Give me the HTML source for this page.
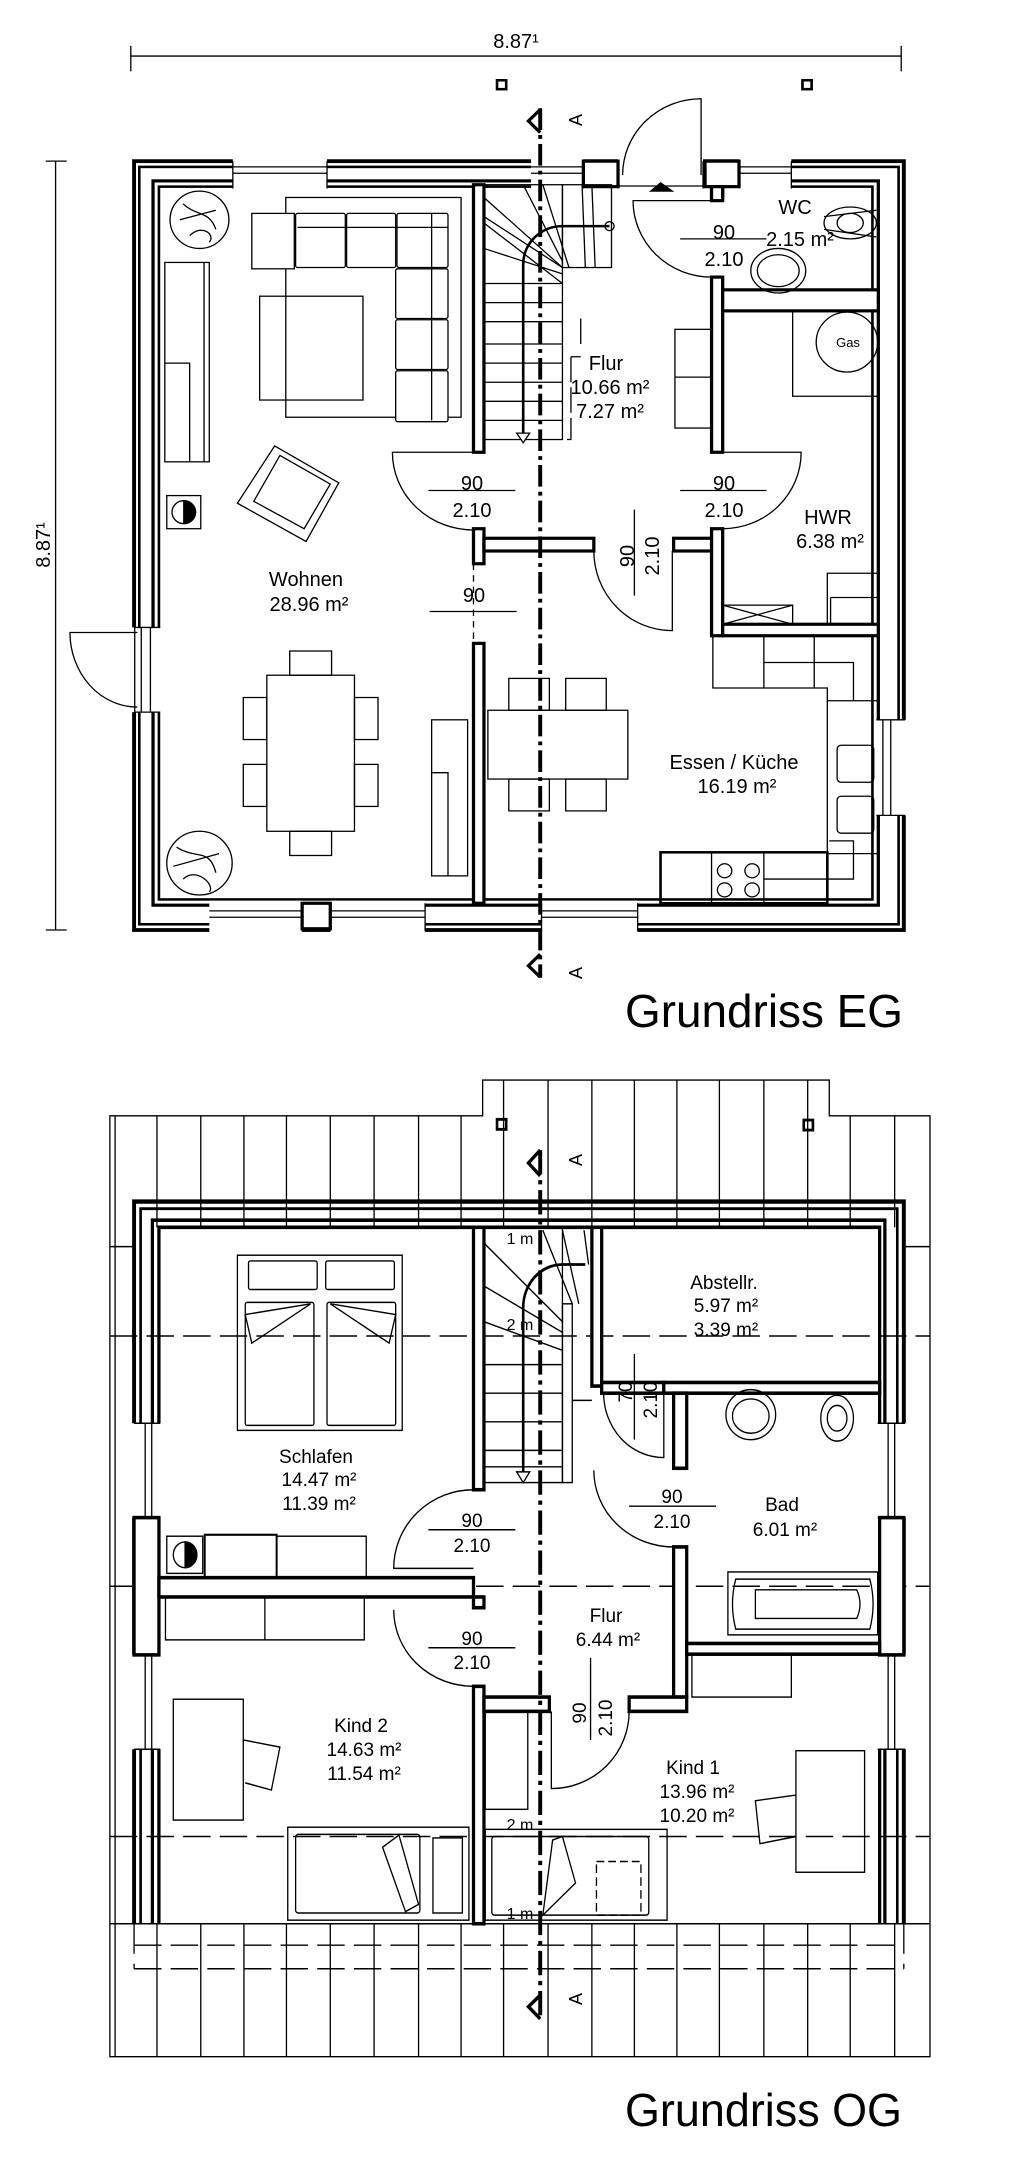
<!DOCTYPE html>
<html><head><meta charset="utf-8"><style>
html,body{margin:0;padding:0;background:#fff;}
svg{display:block;}
text{font-family:"Liberation Sans",sans-serif;fill:#000;}
</style></head><body>
<svg width="1024" height="2170" viewBox="0 0 1024 2170" xmlns="http://www.w3.org/2000/svg">
<rect width="1024" height="2170" fill="#fff"/>

<!-- ================= EG ================= -->
<g transform="scale(0.654,0.637)" fill="none" stroke="#000" stroke-width="2">
  <line x1="200" y1="88" x2="1378" y2="88"/>
  <line x1="200" y1="72" x2="200" y2="112"/><line x1="1378" y1="72" x2="1378" y2="112"/>
  <line x1="85" y1="253" x2="85" y2="1460"/>
  <line x1="70" y1="253" x2="102" y2="253"/><line x1="70" y1="1460" x2="102" y2="1460"/>
  <rect x="760" y="126" width="14" height="14" stroke-width="4"/>
  <rect x="1227" y="126" width="14" height="14" stroke-width="4"/>

  <rect x="205" y="253" width="1177" height="1207" stroke-width="6"/>
  <rect x="213" y="262" width="1161" height="1189" stroke-width="4"/>
  <rect x="234" y="284" width="1109" height="1137" stroke-width="5"/>
  <rect x="243" y="293" width="1091" height="1119" stroke-width="4"/>
  <g fill="#fff" stroke="none">
    <rect x="356" y="246" width="144" height="52"/>
    <rect x="812" y="246" width="80" height="52"/>
    <rect x="945" y="246" width="130" height="52"/>
    <rect x="1130" y="246" width="80" height="52"/>
    <rect x="198" y="985" width="50" height="133"/>
    <rect x="320" y="1414" width="142" height="52"/>
    <rect x="505" y="1414" width="145" height="52"/>
    <rect x="828" y="1414" width="147" height="52"/>
    <rect x="1338" y="1130" width="52" height="150"/>
  </g>
  <g stroke-width="2">
    <path d="M356 262H500M356 272H500M812 262H892M812 272H892M1130 262H1210M1130 272H1210M945 292H1075"/>
    <path d="M206 985V1118M216 985V1118M230 985V1118"/>
    <path d="M320 1430H462M320 1440H462M505 1430H650M505 1440H650M828 1430H975M828 1440H975"/>
    <path d="M1350 1130V1280M1362 1130V1280"/>
    <path d="M356 253V296M500 253V296M892 253V296M945 253V296M1075 253V296M1130 253V296M1210 253V296"/>
    <path d="M205 985H245M205 1118H245M462 1418V1462M505 1418V1462M650 1418V1462M828 1418V1462M975 1418V1462M1340 1130H1384M1340 1280H1384"/>
  </g>
  <g stroke-width="5" fill="#fff">
    <rect x="892" y="253" width="53" height="40"/>
    <rect x="1078" y="253" width="52" height="40"/>
    <rect x="462" y="1418" width="43" height="40"/>
    <path d="M1088 293V310H1105V293"/>
  </g>

  <g stroke-width="5" fill="#fff">
    <rect x="724" y="290" width="16" height="420"/>
    <rect x="724" y="830" width="16" height="55"/>
    <rect x="724" y="1010" width="16" height="408"/>
    <rect x="740" y="845" width="168" height="20"/>
    <rect x="1030" y="845" width="60" height="20"/>
    <rect x="1088" y="293" width="17" height="22"/>
    <rect x="1088" y="435" width="17" height="275"/>
    <rect x="1088" y="830" width="17" height="168"/>
    <rect x="1105" y="455" width="238" height="33"/>
    <rect x="1105" y="980" width="238" height="18"/>
  </g>

  <rect x="740" y="290" width="120" height="400"/>
  <rect x="860" y="290" width="75" height="130"/>
  <path d="M740 445H860M740 475H860M740 505H860M740 540H860M740 570H860M740 600H860M740 630H860M740 660H860"/>
  <path d="M740 310L860 420M740 340L860 420M740 390L860 430M740 350L860 445M800 290L860 410M830 290L870 420M890 290L895 420M905 290L910 420"/>
  <path d="M932 355H860A60 60 0 0 0 800 415V685" stroke-width="4"/>
  <path d="M790 680L800 695L810 680Z" fill="#fff"/>
  <circle cx="932" cy="355" r="7"/>
  <path d="M873 560V690H860M873 560H888M888 540V500" stroke-dasharray="40 8"/>
  <rect x="1032" y="517" width="56" height="155"/>
  <line x1="1032" y1="592" x2="1088" y2="592"/>

  <line x1="826" y1="170" x2="826" y2="1535" stroke-width="6" stroke-dasharray="34 8 6 8"/>
  <path d="M826 172L808 190L826 208" stroke-width="5"/>
  <path d="M826 1498L808 1516L826 1534" stroke-width="5"/>
  <path d="M1010 287L995 300H1028Z" fill="#000"/>

  <path d="M1072 275V155A120 120 0 0 0 952 275"/>
  <path d="M1088 315H968A120 120 0 0 0 1088 435"/>
  <path d="M724 710H600A124 122 0 0 0 724 832"/>
  <path d="M1105 710H1225A120 120 0 0 1 1105 830"/>
  <path d="M1028 865V990A120 125 0 0 1 908 865"/>
  <path d="M210 993H107A103 117 0 0 0 210 1110"/>
  <path d="M724 885V1010" stroke-dasharray="10 8"/>
  <path d="M655 770H788M1040 770H1172M1040 375H1172M970 800V935M657 960H790"/>

  <rect x="437" y="310" width="268" height="345"/>
  <rect x="385" y="335" width="65" height="87" fill="#fff"/>
  <rect x="452" y="335" width="76" height="85" fill="#fff" rx="3"/>
  <rect x="530" y="335" width="75" height="85" fill="#fff" rx="3"/>
  <rect x="607" y="335" width="78" height="85" fill="#fff" rx="3"/>
  <rect x="605" y="422" width="80" height="78" fill="#fff" rx="3"/>
  <rect x="605" y="502" width="80" height="78" fill="#fff" rx="3"/>
  <rect x="605" y="582" width="80" height="80" fill="#fff" rx="3"/>
  <path d="M660 335V660M455 357H685"/>
  <rect x="397" y="465" width="158" height="163"/>
  <rect x="252" y="412" width="68" height="313"/>
  <path d="M252 570H290V725M312 412V725"/>
  <rect x="255" y="778" width="52" height="52"/>
  <circle cx="281" cy="804" r="18"/>
  <path d="M281 786A18 18 0 0 1 281 822Z" fill="#000"/>
  <path d="M420 700L518 758L468 850L363 790Z"/>
  <path d="M428 715L505 760L465 830L388 787Z"/>
  <circle cx="305" cy="345" r="45"/>
  <path d="M280 320C300 340 320 330 330 360M290 370C310 350 330 370 320 380M275 345L330 330"/>
  <circle cx="305" cy="1355" r="50"/>
  <path d="M270 1330C300 1350 320 1330 330 1370M280 1380C300 1360 330 1390 320 1400M265 1360L335 1340"/>
  <rect x="408" y="1060" width="134" height="245"/>
  <rect x="443" y="1022" width="64" height="38"/><rect x="443" y="1305" width="64" height="38"/>
  <rect x="372" y="1095" width="36" height="66"/><rect x="372" y="1200" width="36" height="66"/>
  <rect x="542" y="1095" width="36" height="66"/><rect x="542" y="1200" width="36" height="66"/>
  <rect x="660" y="1130" width="55" height="245"/>
  <path d="M660 1213H685V1375"/>

  <rect x="746" y="1115" width="214" height="108"/>
  <rect x="778" y="1065" width="62" height="50"/><rect x="865" y="1065" width="62" height="50"/>
  <rect x="778" y="1223" width="62" height="50"/><rect x="865" y="1223" width="62" height="50"/>
  <path d="M1090 998V1080H1265V1340H1345M1168 998V1080M1245 998V1080M1168 1040H1305V1100M1265 1100H1343"/>
  <rect x="1280" y="1170" width="56" height="58" rx="6"/>
  <rect x="1280" y="1250" width="56" height="58" rx="6"/>
  <path d="M1268 1320H1305V1380H1168"/>
  <rect x="1010" y="1338" width="255" height="80" stroke-width="4"/>
  <path d="M1088 1338V1418M1168 1338V1418"/>
  <circle cx="1108" cy="1367" r="11"/><circle cx="1150" cy="1367" r="11"/>
  <circle cx="1108" cy="1397" r="11"/><circle cx="1150" cy="1397" r="11"/>

  <ellipse cx="1300" cy="350" rx="40" ry="25"/><ellipse cx="1300" cy="350" rx="20" ry="15"/>
  <path d="M1260 340L1340 330M1260 360L1340 372"/>
  <ellipse cx="1190" cy="425" rx="42" ry="35"/><ellipse cx="1190" cy="425" rx="32" ry="25"/>
  <path d="M1212 488V622H1343"/>
  <circle cx="1295" cy="537" r="47"/>
  <rect x="1105" y="950" width="107" height="30"/>
  <path d="M1105 950L1212 980M1105 980L1212 950"/>
  <path d="M1265 980V900H1343M1270 938H1343M1270 938V980"/>
</g>

<g font-size="20" text-anchor="middle">
  <text x="516" y="48">8.87¹</text>
  <text transform="translate(50,545) rotate(-90)">8.87¹</text>
  <text x="472" y="490">90</text><text x="472" y="517">2.10</text>
  <text x="724" y="490">90</text><text x="724" y="517">2.10</text>
  <text x="724" y="239">90</text><text x="724" y="266">2.10</text>
  <text x="795" y="214">WC</text><text x="800" y="246">2.15 m²</text>
  <text x="606" y="370">Flur</text>
  <text x="610" y="394">10.66 m²</text>
  <text x="610" y="418">7.27 m²</text>
  <text x="828" y="524">HWR</text><text x="830" y="548">6.38 m²</text>
  <text transform="translate(634,556) rotate(-90)">90</text>
  <text transform="translate(659,556) rotate(-90)">2.10</text>
  <text x="474" y="602">90</text>
  <text x="306" y="586">Wohnen</text><text x="309" y="611">28.96 m²</text>
  <text x="734" y="769">Essen / Küche</text><text x="737" y="793">16.19 m²</text>
  <text x="848" y="347" font-size="13">Gas</text>
  <text transform="translate(582,120) rotate(-90)" font-size="18">A</text>
  <text transform="translate(582,973) rotate(-90)" font-size="18">A</text>
</g>
<text x="625" y="1027" font-size="46" textLength="278" lengthAdjust="spacingAndGlyphs">Grundriss EG</text>

<!-- ================= OG ================= -->
<g transform="translate(0,1050) scale(0.654,0.715)" fill="none" stroke="#000" stroke-width="2">
  <path d="M168 1408V92H738V42H1268V92H1422V1408Z"/>
  <path d="M176 92V1408"/>
  <path d="M168 275H205M1382 275H1422M168 1222H1422"/>
  <path d="M240 92V248M307 92V248M373 92V248M438 92V248M505 92V248M572 92V248M640 92V248M705 92V248M770 42V248M838 42V248M905 42V248M970 42V248M1035 42V248M1100 42V248M1168 42V248M1235 42V248M1300 92V248M1368 92V248"/>
  <path d="M240 1222V1408M307 1222V1408M373 1222V1408M438 1222V1408M505 1222V1408M572 1222V1408M640 1222V1408M705 1222V1408M770 1222V1408M838 1222V1408M905 1222V1408M970 1222V1408M1035 1222V1408M1100 1222V1408M1168 1222V1408M1235 1222V1408M1300 1222V1408M1368 1222V1408"/>
  <path d="M168 400H1422M168 750H1422M168 1100H1422M205 1252H1382M205 1285H1382M205 1222V1285M1382 1222V1285" stroke-dasharray="42 14"/>
  <rect x="760" y="97" width="14" height="14" stroke-width="4"/>
  <rect x="1229" y="98" width="14" height="14" stroke-width="4"/>

  <g stroke-width="5">
    <path d="M205 1222V212H1382V1222" stroke-width="6"/>
    <path d="M215 1222V222H1372V1222" stroke-width="4"/>
    <path d="M233 1222V238H1353V1222"/>
    <path d="M243 1222V248H723M740 248H1345V1222"/>
  </g>
  <g fill="#fff" stroke="none">
    <rect x="198" y="522" width="50" height="132"/>
    <rect x="198" y="846" width="50" height="132"/>
    <rect x="1340" y="522" width="50" height="132"/>
    <rect x="1340" y="846" width="50" height="132"/>
  </g>
  <path d="M205 522H245M205 654H245M205 846H245M205 978H245M1342 522H1384M1342 654H1384M1342 846H1384M1342 978H1384"/>
  <path d="M222 522V654M232 522V654M222 846V978M232 846V978M1358 522V654M1368 522V654M1358 846V978M1368 846V978"/>
  <g stroke-width="5" fill="#fff">
    <rect x="205" y="654" width="38" height="192"/>
    <rect x="1345" y="654" width="37" height="192"/>
  </g>

  <g stroke-width="5" fill="#fff">
    <rect x="724" y="248" width="16" height="367"/>
    <rect x="243" y="738" width="481" height="27"/>
    <rect x="724" y="765" width="16" height="15"/>
    <rect x="724" y="890" width="16" height="332"/>
    <rect x="905" y="248" width="15" height="222"/>
    <rect x="920" y="465" width="95" height="15"/>
    <rect x="1015" y="465" width="330" height="15"/>
    <rect x="1030" y="480" width="20" height="105"/>
    <rect x="1030" y="695" width="20" height="210"/>
    <rect x="1050" y="830" width="295" height="15"/>
    <rect x="740" y="905" width="100" height="20"/>
    <rect x="962" y="905" width="88" height="20"/>
  </g>
  <rect x="860" y="355" width="15" height="250"/>
  <path d="M875 490H905"/>

  <rect x="740" y="248" width="120" height="357"/>
  <path d="M740 440H860M740 480H860M740 520H860M740 560H860M740 583H860"/>
  <path d="M740 270L860 380M740 330L860 395M740 380L860 420M830 252L875 355M860 252L885 355M893 252L900 300"/>
  <path d="M895 300H860A60 60 0 0 0 800 360V600" stroke-width="4"/>
  <path d="M790 590L800 605L810 590Z" fill="#fff"/>

  <line x1="826" y1="140" x2="826" y2="1355" stroke-width="6" stroke-dasharray="34 8 6 8"/>
  <path d="M826 140L808 158L826 176" stroke-width="5"/>
  <path d="M826 1322L808 1338L826 1355" stroke-width="5"/>

  <path d="M724 725H602A122 110 0 0 1 724 615"/>
  <path d="M602 783A122 107 0 0 0 724 890"/>
  <path d="M908 588A122 107 0 0 0 1030 695"/>
  <path d="M1015 480V570A92 90 0 0 1 923 480"/>
  <path d="M843 925V1033A119 108 0 0 0 962 925"/>
  <path d="M655 671H788M962 638H1095M655 836H788M903 850V965M970 425V545"/>

  <rect x="363" y="287" width="252" height="245"/>
  <rect x="380" y="295" width="105" height="40" rx="3"/><rect x="498" y="295" width="105" height="40" rx="3"/>
  <rect x="375" y="353" width="105" height="172" rx="3"/><rect x="500" y="353" width="105" height="172" rx="3"/>
  <path d="M375 370L475 355L385 410ZM605 370L505 355L595 410Z"/>
  <rect x="255" y="680" width="55" height="52"/>
  <circle cx="283" cy="706" r="18"/>
  <path d="M283 688A18 18 0 0 1 283 724Z" fill="#000"/>
  <rect x="313" y="678" width="110" height="60" stroke-width="3"/>
  <rect x="423" y="680" width="137" height="58"/>
  <rect x="253" y="765" width="304" height="60"/>
  <path d="M405 765V825"/>

  <rect x="265" y="908" width="107" height="169"/>
  <path d="M372 965L428 975L415 1035L375 1025"/>
  <rect x="440" y="1087" width="277" height="130"/>
  <rect x="452" y="1097" width="190" height="110" rx="4"/>
  <rect x="662" y="1102" width="45" height="105"/>
  <path d="M585 1115L610 1098L640 1195L620 1205Z"/>

  <rect x="1217" y="980" width="105" height="170"/>
  <path d="M1217 1042L1155 1050L1162 1110L1217 1100"/>
  <rect x="1058" y="845" width="152" height="60"/>
  <rect x="742" y="1090" width="278" height="127"/>
  <rect x="752" y="1100" width="240" height="110" rx="4"/>
  <rect x="912" y="1135" width="68" height="75" stroke-dasharray="12 6"/>
  <path d="M845 1105L860 1100L880 1165L830 1210Z"/>
  <rect x="742" y="925" width="65" height="137"/>

  <ellipse cx="1148" cy="510" rx="38" ry="35"/><ellipse cx="1148" cy="512" rx="28" ry="24"/>
  <ellipse cx="1280" cy="515" rx="25" ry="32"/><ellipse cx="1280" cy="515" rx="15" ry="18"/>
  <rect x="1113" y="730" width="229" height="88"/>
  <path d="M1125 740H1330Q1340 775 1330 810H1125Q1115 775 1125 740Z"/>
  <path d="M1155 755H1310Q1320 775 1310 795H1155Z"/>
</g>

<g font-size="19" text-anchor="middle">
  <text x="520" y="1244" font-size="16">1 m</text>
  <text x="520" y="1330" font-size="16">2 m</text>
  <text x="520" y="1830" font-size="16">2 m</text>
  <text x="520" y="1919" font-size="16">1 m</text>
  <text x="724" y="1289">Abstellr.</text><text x="726" y="1312">5.97 m²</text><text x="726" y="1336">3.39 m²</text>
  <text transform="translate(632,1392) rotate(-90)">70</text>
  <text transform="translate(657,1400) rotate(-90)">2.10</text>
  <text x="316" y="1463">Schlafen</text><text x="319" y="1486">14.47 m²</text><text x="319" y="1510">11.39 m²</text>
  <text x="472" y="1527">90</text><text x="472" y="1552">2.10</text>
  <text x="672" y="1503">90</text><text x="672" y="1528">2.10</text>
  <text x="782" y="1511">Bad</text><text x="785" y="1536">6.01 m²</text>
  <text x="472" y="1645">90</text><text x="472" y="1669">2.10</text>
  <text x="606" y="1622">Flur</text><text x="608" y="1646">6.44 m²</text>
  <text transform="translate(586,1713) rotate(-90)">90</text>
  <text transform="translate(612,1718) rotate(-90)">2.10</text>
  <text x="361" y="1732">Kind 2</text><text x="364" y="1756">14.63 m²</text><text x="364" y="1780">11.54 m²</text>
  <text x="693" y="1774">Kind 1</text><text x="697" y="1798">13.96 m²</text><text x="697" y="1822">10.20 m²</text>
  <text transform="translate(582,1160) rotate(-90)" font-size="18">A</text>
  <text transform="translate(582,1999) rotate(-90)" font-size="18">A</text>
</g>
<text x="625" y="2126" font-size="46" textLength="277" lengthAdjust="spacingAndGlyphs">Grundriss OG</text>
</svg>
</body></html>
